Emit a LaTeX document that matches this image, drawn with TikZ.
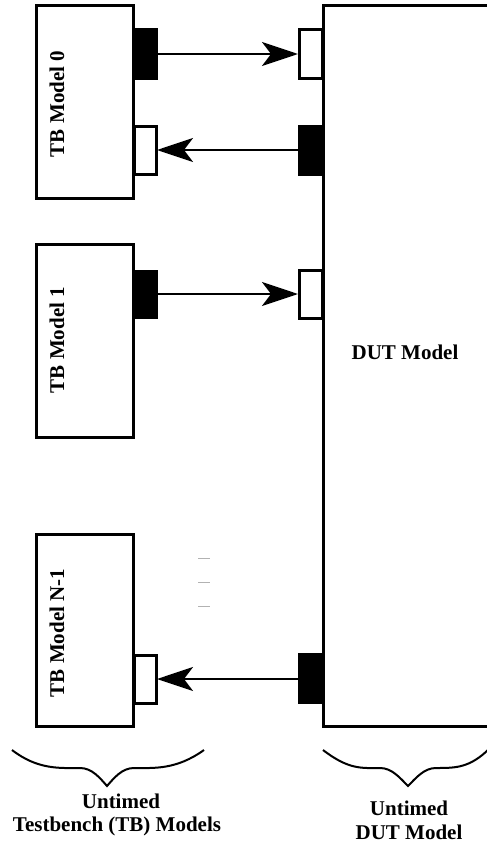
\documentclass[tikz,border=0pt]{standalone}
\usepackage{fontspec}
\setmainfont{Liberation Serif}
\usetikzlibrary{arrows.meta}
\begin{document}
\begin{tikzpicture}[x=1pt,y=-1pt,
  box/.style={draw,line width=3pt,inner sep=0pt},
  portb/.style={fill=black,draw=black,line width=1pt,inner sep=0pt},
  portw/.style={fill=white,draw=black,line width=3pt,inner sep=0pt},
  lab/.style={font=\fontsize{21}{25}\selectfont\bfseries},
  conn/.style={line width=2.7pt,-{Stealth[length=36pt,width=24pt,inset=9pt]}},
  brace/.style={line width=2pt},
  dotline/.style={gray!60,line width=1pt}]
\useasboundingbox (0,0) rectangle (487,843);
\clip (0,0) rectangle (487,843);
% TB boxes
\draw[box] (36,6) rectangle (133,198);
\draw[box] (36,244) rectangle (133,437);
\draw[box] (36,534) rectangle (133,726);
\node[lab,rotate=90] (tb0) at (57,104) {TB Model 0};
\node[lab,rotate=90] (tb1) at (57,340) {TB Model 1};
\node[lab,rotate=90] (tbn) at (57,633) {TB Model N-1};
% DUT box
\draw[box] (500,6) -- (323,6) -- (323,726) -- (500,726);
\node[lab] (dut) at (405,352) {DUT Model};
% ports
\path[portb] (133,29) rectangle (157,79);
\coordinate (p0o) at (157,54);
\path[portw] (299,30) rectangle (322,78);
\coordinate (d0i) at (298,54);
\path[portw] (134,126) rectangle (156,174);
\coordinate (p0i) at (157,150);
\path[portb] (298,125) rectangle (323,175);
\coordinate (d0o) at (298,150);
\path[portb] (133,270) rectangle (157,318);
\coordinate (p1o) at (157,294);
\path[portw] (299,270) rectangle (322,318);
\coordinate (d1i) at (298,294);
\path[portw] (134,655) rectangle (156,703);
\coordinate (pni) at (157,679);
\path[portb] (298,653) rectangle (323,703);
\coordinate (dno) at (298,679);
% redraw box edges over ports
\draw[line width=3pt] (133,79) -- (133,126);
\draw[line width=3pt] (133,174) -- (133,198);
\draw[line width=3pt] (323,78) -- (323,125);
% connectors
\draw[conn] (p0o) -- (d0i);
\draw[conn] (d0o) -- (p0i);
\draw[conn] (p1o) -- (d1i);
\draw[conn] (dno) -- (pni);
% dots
\draw[dotline] (198,558) -- (210,558);
\draw[dotline] (198,582) -- (210,582);
\draw[dotline] (198,606) -- (210,606);
% braces
\draw[brace] (12,750) .. controls (38,770) and (60,768) .. (80,768) .. controls (92,768) and (100,778) .. (107,786) .. controls (114,778) and (122,768) .. (134,768) .. controls (154,768) and (176,770) .. (204,750);
\draw[brace] (323,750) .. controls (349,770) and (362,768) .. (380,768) .. controls (392,768) and (400,778) .. (408,786) .. controls (416,778) and (424,768) .. (436,768) .. controls (456,768) and (470,768) .. (490,748);
% labels
\node[lab] (l1) at (121,801) {Untimed};
\node[lab] (l2) at (117,826) {Testbench (TB) Models};
\node[lab] (r1) at (409,808) {Untimed};
\node[lab] (r2) at (409,832) {DUT Model};
\end{tikzpicture}
\end{document}
